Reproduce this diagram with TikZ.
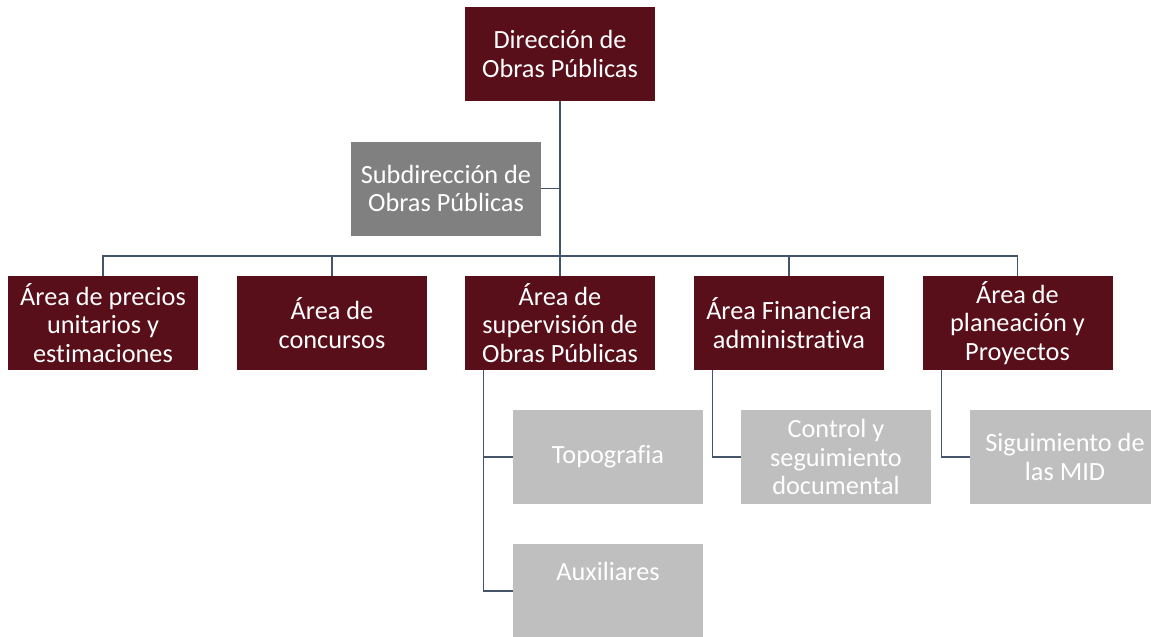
\documentclass[tikz,border=0pt]{standalone}
\usepackage{fontspec}
\setmainfont{Carlito}[Ligatures=NoCommon]
\definecolor{maroon}{HTML}{580F1A}
\definecolor{midgray}{HTML}{808080}
\definecolor{lightgray}{HTML}{BFBFBF}
\definecolor{linecol}{HTML}{44546A}
\tikzset{
  box/.style={rectangle, minimum width=190pt, minimum height=94pt, inner sep=2pt,
    text=white, align=center, font=\fontsize{26.3}{28.5}\selectfont},
  mbox/.style={box, fill=maroon},
  gbox/.style={box, fill=midgray},
  lbox/.style={box, fill=lightgray},
  txt/.style={text=white, align=center, font=\fontsize{26.3}{28.5}\selectfont, inner sep=0pt},
  conn/.style={draw=linecol, line width=1.1pt}
}
\begin{document}
\begin{tikzpicture}[x=1pt,y=-1pt]
\clip (0,0) rectangle (1151,637);
\node[mbox] (dir) at (560,54) {Dirección de\\Obras Públicas};
\node[gbox] (sub) at (446,188.5) {Subdirección de\\Obras Públicas};
\node[mbox] (a1) at (103,323) {Área de precios\\unitarios y\\estimaciones};
\node[mbox] (a2) at (332,323) {Área de\\concursos};
\node[mbox] (a3) at (560,323) {Área de\\supervisión de\\Obras Públicas};
\node[mbox] (a4) at (789,323) {Área Financiera\\administrativa};
\node[mbox] (a5) at (1017.5,323) {Área de\\planeación y\\Proyectos};
\node[lbox] (topo) at (608,457) {Topografia};
\node[lbox] (aux) at (608,591) {};
\node[txt] (auxt) at (608,571) {Auxiliares};
\node[lbox] (ctrl) at (836,457) {Control y\\seguimiento\\documental};
\node[lbox] (sig) at (1065,457) {Siguimiento de\\las MID};
\coordinate (bus) at (560,256);
\draw[conn] (dir.south) -- (bus);
\draw[conn] (sub.east) -- (sub.east -| dir.south);
\draw[conn] (a1.north) |- (bus) -| (a5.north);
\draw[conn] (a2.north) -- (a2.north |- bus);
\draw[conn] (a3.north) -- (a3.north |- bus);
\draw[conn] (a4.north) -- (a4.north |- bus);
\draw[conn] ([xshift=19pt]a3.south west) |- (topo.west);
\draw[conn] ([xshift=19pt]a3.south west) |- (aux.west);
\draw[conn] ([xshift=19pt]a4.south west) |- (ctrl.west);
\draw[conn] ([xshift=19pt]a5.south west) |- (sig.west);
\end{tikzpicture}
\end{document}
